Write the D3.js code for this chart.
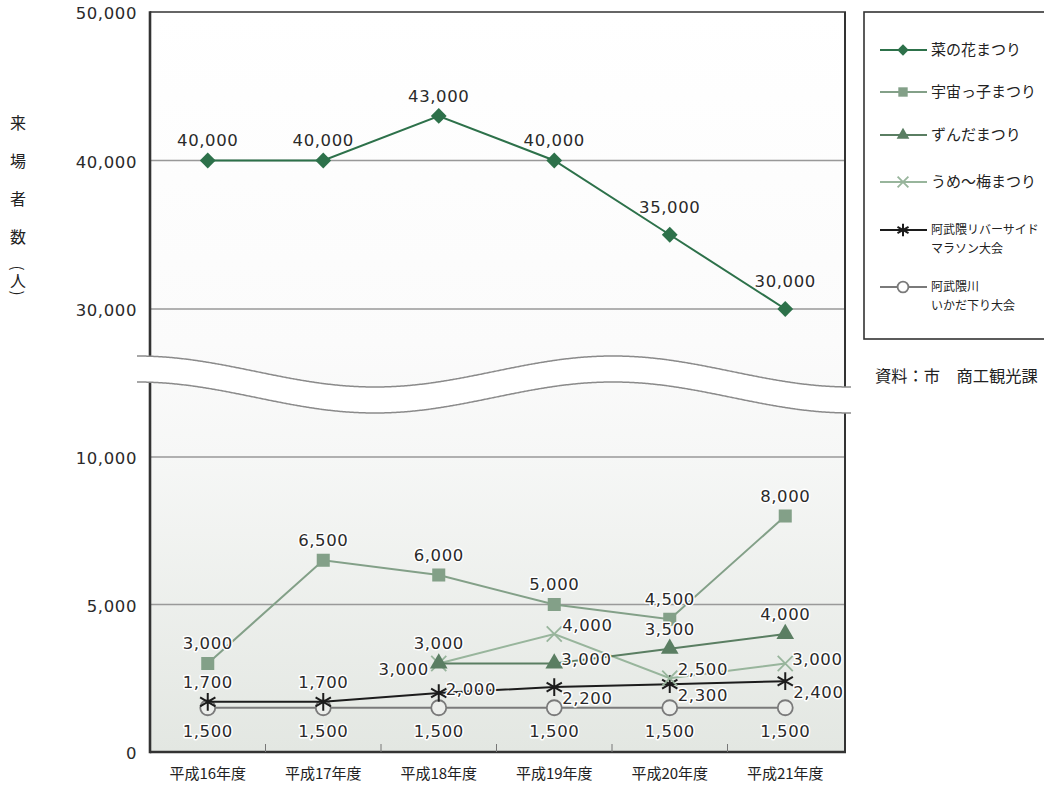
<!DOCTYPE html>
<html lang="ja">
<head>
<meta charset="utf-8">
<script src="https://cdn.jsdelivr.net/npm/d3@7"></script>
<style>
  html, body { margin: 0; padding: 0; background: #fff; }
  svg { display: block; }
  .num { font-family: "DejaVu Sans", sans-serif; font-size: 16.5px; letter-spacing: 0.6px; fill: #2a2a2a; }
  .jp { font-family: "Noto Sans CJK JP", sans-serif; fill: #222; }
</style>
</head>
<body>
<svg id="chart" width="1044" height="785"></svg>
<script>
// ---- data ----
const categories = ["平成16年度", "平成17年度", "平成18年度", "平成19年度", "平成20年度", "平成21年度"];
const nanohana = [40000, 40000, 43000, 40000, 35000, 30000];   // 菜の花まつり
const uchukko  = [3000, 6500, 6000, 5000, 4500, 8000];         // 宇宙っ子まつり
const zunda    = [null, null, 3000, 3000, 3500, 4000];         // ずんだまつり
const ume      = [null, null, 3000, 4000, 2500, 3000];         // うめ〜梅まつり
const marathon = [1700, 1700, 2000, 2200, 2300, 2400];         // 阿武隈リバーサイドマラソン大会
const ikada    = [1500, 1500, 1500, 1500, 1500, 1500];         // 阿武隈川いかだ下り大会
const yTicks   = [0, 5000, 10000, 30000, 40000, 50000];
const yTitle   = ["来", "場", "者", "数"];
const yTitleUnit = ["(", "人", ")"];
const sourceNote = "資料：市　商工観光課";

// where each value label sits relative to its point
const labelSpots = {
  nanohana: ["t", "t", "t", "t", "T", "T"],
  uchukko:  ["t", "t", "t", "t", "t", "t"],
  zunda:    [null, null, "l", "r", "t", "t"],
  ume:      [null, null, "t", "rt", "rt", "r"],
  marathon: ["t", "t", "r", "rb", "rb", "rb"],
  ikada:    ["b", "b", "b", "b", "b", "b"]
};
const spotOffset = {
  t:  { dx: 0,   dy: -20, anchor: "middle" },
  T:  { dx: 0,   dy: -28, anchor: "middle" },
  l:  { dx: -10, dy: 6,   anchor: "end" },
  r:  { dx: 7,   dy: -4,  anchor: "start" },
  rt: { dx: 8,   dy: -9,  anchor: "start" },
  rb: { dx: 8,   dy: 11,  anchor: "start" },
  b:  { dx: 0,   dy: 23,  anchor: "middle" }
};

const series = [
  { key: "nanohana", name: ["菜の花まつり"], values: nanohana, color: "#2d714a", symbol: "diamond" },
  { key: "uchukko",  name: ["宇宙っ子まつり"], values: uchukko, color: "#83a088", symbol: "square" },
  { key: "zunda",    name: ["ずんだまつり"], values: zunda, color: "#5a7e62", symbol: "triangle" },
  { key: "ume",      name: ["うめ〜梅まつり"], values: ume, color: "#98b59c", symbol: "times" },
  { key: "marathon", name: ["阿武隈リバーサイド", "マラソン大会"], values: marathon, color: "#1c1c1c", symbol: "asterisk" },
  { key: "ikada",    name: ["阿武隈川", "いかだ下り大会"], values: ikada, color: "#7a7a7a", symbol: "circle" }
];

// ---- layout ----
const plot = { left: 150, right: 845, top: 12, bottom: 752 };
const svg = d3.select("#chart");

// broken value axis: 0–10,000 below the break, 30,000–50,000 above it
const y = d3.scaleLinear()
  .domain([0, 10000, 30000, 50000])
  .range([752, 457, 309, 12]);

const x = d3.scaleBand()
  .domain(categories)
  .range([plot.left, 843])
  .paddingInner(0).paddingOuter(0);
const cx = c => x(c) + x.bandwidth() / 2;

// ---- background ----
const defs = svg.append("defs");
const grad = defs.append("linearGradient")
  .attr("id", "plotBg").attr("x1", 0).attr("y1", 0).attr("x2", 0).attr("y2", 1);
[[0, "#ffffff"], [0.45, "#fbfbfb"], [0.6, "#f6f7f6"], [1, "#e3e7e2"]]
  .forEach(([o, c]) => grad.append("stop").attr("offset", o).attr("stop-color", c));

svg.append("rect")
  .attr("x", plot.left).attr("y", plot.top)
  .attr("width", plot.right - plot.left).attr("height", plot.bottom - plot.top)
  .attr("fill", "url(#plotBg)");

// gridlines
svg.append("g")
  .selectAll("line")
  .data(yTicks.filter(v => v > 0 && v < 50000))
  .join("line")
  .attr("x1", plot.left).attr("x2", plot.right)
  .attr("y1", d => y(d)).attr("y2", d => y(d))
  .attr("stroke", "#999").attr("stroke-width", 1.3);

// frame
const frame = svg.append("g").attr("stroke", "#333").attr("fill", "none");
frame.append("line").attr("x1", plot.left).attr("x2", plot.right + 1).attr("y1", plot.top).attr("y2", plot.top).attr("stroke-width", 1.6);
frame.append("line").attr("x1", plot.right).attr("x2", plot.right).attr("y1", plot.top).attr("y2", plot.bottom).attr("stroke-width", 2);
frame.append("line").attr("x1", plot.left).attr("x2", plot.left).attr("y1", plot.top - 0.8).attr("y2", plot.bottom + 1.2).attr("stroke-width", 2.6);
frame.append("line").attr("x1", plot.left).attr("x2", plot.right + 1).attr("y1", plot.bottom).attr("y2", plot.bottom).attr("stroke-width", 2.6);

// y axis labels
const yAxis = svg.append("g")
  .attr("transform", `translate(${plot.left},0)`)
  .call(d3.axisLeft(y).tickValues(yTicks).tickFormat(d3.format(",")).tickSize(0).tickPadding(13));
yAxis.select(".domain").remove();
yAxis.selectAll("text").attr("class", "num").attr("dy", "0.4em").attr("fill", "#2a2a2a");

// x axis labels
const xAxis = svg.append("g")
  .attr("transform", `translate(0,${plot.bottom})`)
  .call(d3.axisBottom(x).tickSize(0).tickPadding(16));
xAxis.select(".domain").remove();
xAxis.selectAll("text").attr("class", "jp").style("font-size", "15px").attr("fill", "#222");

// category separators rising from the base line
svg.append("g")
  .selectAll("line")
  .data(categories.slice(1))
  .join("line")
  .attr("x1", d => x(d)).attr("x2", d => x(d))
  .attr("y1", plot.bottom).attr("y2", plot.bottom - 8)
  .attr("stroke", "#777").attr("stroke-width", 1);

// ---- break band ----
const waveTop = d3.range(137, 853, 2).map(px => [px, 371.5 - 15.5 * Math.cos(2 * Math.PI * (px - 137) / 476)]);
const waveBot = waveTop.map(([px, py]) => [px, py + 26]);
const curve = d3.line().curve(d3.curveBasis);
svg.append("path")
  .attr("d", "M" + waveTop.map(p => p.join(",")).join("L") + "L" + waveBot.slice().reverse().map(p => p.join(",")).join("L") + "Z")
  .attr("fill", "#fff");
[waveTop, waveBot].forEach(pts =>
  svg.append("path").attr("d", curve(pts)).attr("fill", "none").attr("stroke", "#8a8a8a").attr("stroke-width", 1.5));

// ---- markers ----
function marker(sel, kind, color, scale, fillBg) {
  const s = scale;
  if (kind === "diamond") {
    sel.append("path").attr("d", d3.symbol(d3.symbolSquare, 125 * s * s)()).attr("transform", "rotate(45)").attr("fill", color);
  } else if (kind === "square") {
    sel.append("path").attr("d", d3.symbol(d3.symbolSquare, 170 * s * s)()).attr("fill", color);
  } else if (kind === "triangle") {
    sel.append("path").attr("d", d3.symbol(d3.symbolTriangle, 135 * s * s)()).attr("fill", color);
  } else if (kind === "times") {
    sel.append("path").attr("d", d3.symbol(d3.symbolTimes, 150 * s * s)()).attr("fill", "none").attr("stroke", color).attr("stroke-width", 1.8);
  } else if (kind === "asterisk") {
    sel.append("path").attr("d", d3.symbol(d3.symbolAsterisk, 220 * s * s)()).attr("fill", "none").attr("stroke", color).attr("stroke-width", 2);
  } else if (kind === "circle") {
    sel.append("circle").attr("r", 7.5 * s).attr("fill", fillBg).attr("stroke", color).attr("stroke-width", 1.8);
  }
}

// ---- series (drawn last-to-first so the headline series sits on top) ----
const lineGen = d3.line()
  .defined(d => d.v != null)
  .x(d => cx(d.c))
  .y(d => y(d.v));

const seriesLayer = svg.append("g");
series.slice().reverse().forEach(s => {
  const pts = s.values.map((v, i) => ({ c: categories[i], v }));
  const g = seriesLayer.append("g");
  g.append("path")
    .attr("d", lineGen(pts))
    .attr("fill", "none").attr("stroke", s.color).attr("stroke-width", 2);
  g.selectAll("g.pt")
    .data(pts.filter(d => d.v != null))
    .join("g").attr("class", "pt")
    .attr("transform", d => `translate(${cx(d.c)},${y(d.v)})`)
    .each(function () { marker(d3.select(this), s.symbol, s.color, 1, "#eceeeb"); });
});

// ---- value labels ----
const labelLayer = svg.append("g");
series.forEach(s => {
  s.values.forEach((v, i) => {
    if (v == null) return;
    const o = spotOffset[labelSpots[s.key][i]];
    labelLayer.append("text")
      .attr("class", "num")
      .attr("x", cx(categories[i]) + o.dx)
      .attr("y", y(v) + o.dy)
      .attr("dy", "0.36em")
      .attr("text-anchor", o.anchor)
      .attr("stroke", "#fff").attr("stroke-width", 3).attr("stroke-linejoin", "round")
      .attr("paint-order", "stroke")
      .text(d3.format(",")(v));
  });
});

// ---- y axis title (vertical) ----
const titleX = 18;
const titleY = [123, 161, 199, 237];
svg.append("g").selectAll("text")
  .data(yTitle)
  .join("text")
  .attr("class", "jp")
  .attr("x", titleX).attr("y", (d, i) => titleY[i])
  .attr("dy", "0.36em")
  .attr("text-anchor", "middle")
  .style("font-size", "16px")
  .text(d => d);

// unit in brackets, brackets turned for vertical writing
const unitY = [268, 280, 293];
svg.append("g").selectAll("text")
  .data(yTitleUnit)
  .join("text")
  .attr("class", "jp")
  .attr("text-anchor", "middle")
  .attr("dominant-baseline", "central")
  .style("font-size", (d, i) => i === 1 ? "16px" : "15px")
  .attr("transform", (d, i) => i === 1
    ? `translate(${titleX},${unitY[i]})`
    : `translate(${titleX},${unitY[i]}) rotate(90)`)
  .text(d => d);

// ---- legend ----
const legend = svg.append("g");
legend.append("rect")
  .attr("x", 864).attr("y", 12).attr("width", 200).attr("height", 327)
  .attr("fill", "#fff").attr("stroke", "#333").attr("stroke-width", 1.6);
const legendY = [50, 92, 135, 182, 230, 287];
series.forEach((s, i) => {
  const ly = legendY[i];
  const g = legend.append("g");
  g.append("line").attr("x1", 880).attr("x2", 927).attr("y1", ly).attr("y2", ly)
    .attr("stroke", s.color).attr("stroke-width", 1.8);
  const m = g.append("g").attr("transform", `translate(903,${ly})`);
  marker(m, s.symbol, s.color, 0.72, "#fff");
  const small = s.name.length > 1;
  s.name.forEach((line, k) => {
    g.append("text").attr("class", "jp")
      .attr("x", 931).attr("y", ly + k * 19)
      .attr("dy", "0.36em")
      .style("font-size", small ? "12px" : "15px")
      .text(line);
  });
});

// source note
svg.append("text").attr("class", "jp")
  .attr("x", 875).attr("y", 376).attr("dy", "0.36em")
  .style("font-size", "16.3px")
  .text(sourceNote);
</script>
</body>
</html>
